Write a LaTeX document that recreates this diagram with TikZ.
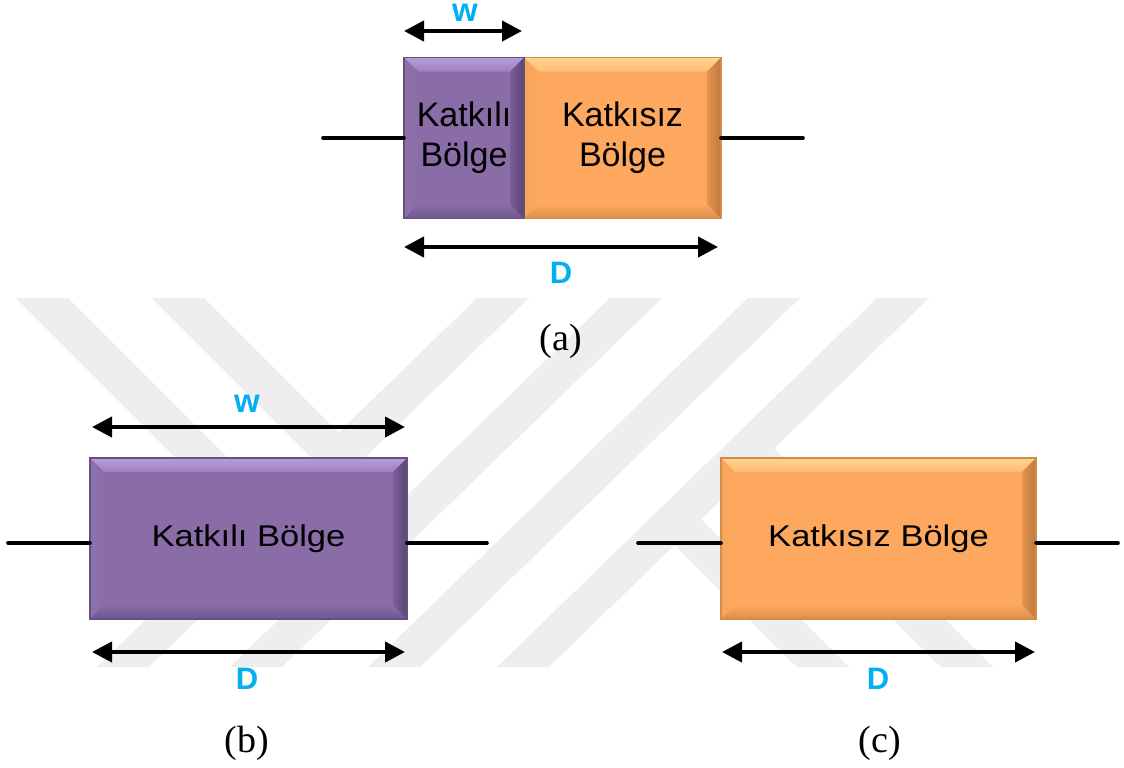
\documentclass[tikz,border=0pt]{standalone}
\usepackage{fontspec}
\setmainfont{Liberation Serif}
\newfontfamily\arialf{Liberation Sans}
\usetikzlibrary{arrows.meta}
\pgfdeclarelayer{wm}
\pgfdeclarelayer{bg}
\pgfsetlayers{wm,bg,main}

\definecolor{pfill}{HTML}{8A6CA7}
\definecolor{ptopa}{HTML}{B99DDB}
\definecolor{ptopb}{HTML}{9D80C0}
\definecolor{pleft}{HTML}{8E70AC}
\definecolor{prighta}{HTML}{5A4673}
\definecolor{prightb}{HTML}{7A5E98}
\definecolor{pbot}{HTML}{6E5690}
\definecolor{pline}{HTML}{65517F}
\definecolor{ofill}{HTML}{FDA85E}
\definecolor{otopa}{HTML}{FFD591}
\definecolor{otopb}{HTML}{FEBB72}
\definecolor{oleft}{HTML}{F7A45B}
\definecolor{orighta}{HTML}{BC793B}
\definecolor{orightb}{HTML}{E4944F}
\definecolor{obot}{HTML}{DC8E4A}
\definecolor{oline}{HTML}{D18C4E}
\definecolor{lbl}{HTML}{00B0F0}
\definecolor{wmc}{HTML}{EEEEEE}

% #1 node, #2 fill, #3 top-a, #4 top-b, #5 left, #6 right-a, #7 right-b, #8 bottom, #9 outline
\newcommand{\bevelbox}[9]{%
  \begin{pgfonlayer}{bg}
    \fill[#2] (#1.north west) rectangle (#1.south east);
    \shade[top color=#3, bottom color=#4]
      (#1.north west) -- (#1.north east) -- ([shift={(-14,14)}]#1.north east)
      -- ([shift={(14,14)}]#1.north west) -- cycle;
    \shade[left color=#5, right color=#2]
      (#1.north west) -- ([shift={(14,14)}]#1.north west)
      -- ([shift={(14,-14)}]#1.south west) -- (#1.south west) -- cycle;
    \shade[left color=#7, right color=#6]
      (#1.north east) -- (#1.south east) -- ([shift={(-14,-14)}]#1.south east)
      -- ([shift={(-14,14)}]#1.north east) -- cycle;
    \shade[top color=#2, bottom color=#8]
      (#1.south west) -- ([shift={(14,-14)}]#1.south west)
      -- ([shift={(-14,-14)}]#1.south east) -- (#1.south east) -- cycle;
    \draw[#9, line width=0.6pt] (#1.north west) rectangle (#1.south east);
  \end{pgfonlayer}}

\tikzset{
  boxnode/.style={rectangle, inner sep=0pt, outer sep=0pt, align=center, text=black},
  txta/.style={font=\arialf\fontsize{17}{20}\selectfont},
  txtb/.style={font=\arialf\fontsize{15}{18}\selectfont},
  lead/.style={line width=1.8pt, line cap=round},
  dim/.style={line width=2.1pt, {Triangle[length=10pt,width=10pt]}-{Triangle[length=10pt,width=10pt]}},
  lbltxt/.style={font=\arialf\bfseries\fontsize{15.5}{18}\selectfont, text=lbl, anchor=base, inner sep=0pt},
  wtxt/.style={lbltxt, font=\arialf\bfseries\fontsize{16.5}{18}\selectfont},
  caption/.style={font=\fontsize{19}{22}\selectfont, anchor=base, inner sep=0pt},
  wmstripe/.style={fill=wmc}
}

\begin{document}
\begin{tikzpicture}[x=0.5pt, y=-0.5pt]
\useasboundingbox (0,0) rectangle (1124,767);

% watermark
\begin{pgfonlayer}{wm}
  \fill[white] (0,0) rectangle (1124,767);
  \fill[wmstripe] (97,667) -- (149,667) -- (529,298) -- (477,298) -- cycle;
  \fill[wmstripe] (230,667) -- (282,667) -- (662,298) -- (610,298) -- cycle;
  \fill[wmstripe] (368,667) -- (420,667) -- (800,298) -- (748,298) -- cycle;
  \fill[wmstripe] (497,667) -- (549,667) -- (929,298) -- (877,298) -- cycle;
  \fill[wmstripe] (16,298) -- (68,298) -- (282,512) -- (256,538) -- cycle;
  \fill[wmstripe] (152,298) -- (204,298) -- (417,511) -- (390.5,536.5) -- cycle;
  \fill[wmstripe] (797,667) -- (849,667) -- (688,506) -- (662,532) -- cycle;
  \fill[wmstripe] (941,667) -- (993,667) -- (761.5,435.5) -- (735,461) -- cycle;
\end{pgfonlayer}

% ---------- (a) ----------
\node[boxnode, txta, minimum width=60pt, minimum height=80.5pt] (ka) at (464,138) {Katkılı\\Bölge};
\node[boxnode, txta, minimum width=98.5pt, minimum height=80.5pt] (ko) at (622.5,138) {Katkısız\\Bölge};
\bevelbox{ko}{ofill}{otopa}{otopb}{oleft}{orighta}{orightb}{obot}{oline}
\bevelbox{ka}{pfill}{ptopa}{ptopb}{pleft}{prighta}{prightb}{pbot}{pline}

\coordinate (la) at (323,138);
\coordinate (ra) at (803,138);
\draw[lead] (la) -- (la -| ka.west);
\draw[lead] (ra -| ko.east) -- (ra);

\coordinate (wa1) at (404,31);
\coordinate (wa2) at (522,31);
\draw[dim] (wa1) -- (wa2);
\node[wtxt] (wla) at (465,21) {w};

\coordinate (da1) at (404,247);
\coordinate (da2) at (718,247);
\draw[dim] (da1) -- (da2);
\node[lbltxt] (dla) at (561,283) {D};

\node[caption] (capa) at (561,350) {(a)};

% ---------- (b) ----------
\node[boxnode, txtb, minimum width=158.5pt, minimum height=80.5pt] (kb) at (248.5,538.5) {\scalebox{1.15}[1]{Katkılı Bölge}};
\bevelbox{kb}{pfill}{ptopa}{ptopb}{pleft}{prighta}{prightb}{pbot}{pline}

\coordinate (lb) at (8,543);
\coordinate (rb) at (487,543);
\draw[lead] (lb) -- (lb -| kb.west);
\draw[lead] (rb -| kb.east) -- (rb);

\coordinate (wb1) at (92,427);
\coordinate (wb2) at (405,427);
\draw[dim] (wb1) -- (wb2);
\node[wtxt] (wlb) at (247,412.5) {w};

\coordinate (db1) at (92,652);
\coordinate (db2) at (405,652);
\draw[dim] (db1) -- (db2);
\node[lbltxt] (dlb) at (247,689) {D};

\node[caption] (capb) at (247,752) {(b)};

% ---------- (c) ----------
\node[boxnode, txtb, minimum width=157.5pt, minimum height=80.5pt] (kc) at (878.5,538.5) {\scalebox{1.15}[1]{Katkısız Bölge}};
\bevelbox{kc}{ofill}{otopa}{otopb}{oleft}{orighta}{orightb}{obot}{oline}

\coordinate (lc) at (638,543);
\coordinate (rc) at (1118,543);
\draw[lead] (lc) -- (lc -| kc.west);
\draw[lead] (rc -| kc.east) -- (rc);

\coordinate (dc1) at (722,652);
\coordinate (dc2) at (1035,652);
\draw[dim] (dc1) -- (dc2);
\node[lbltxt] (dlc) at (878,689) {D};

\node[caption] (capc) at (880,752) {(c)};
\end{tikzpicture}
\end{document}
